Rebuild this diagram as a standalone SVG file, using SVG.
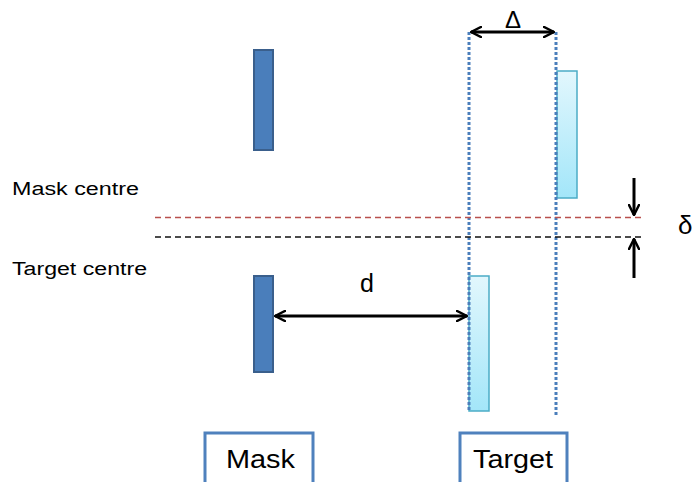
<svg xmlns="http://www.w3.org/2000/svg" width="695" height="482" viewBox="0 0 695 482">
<style>
.mask{fill:#4a7ebb;stroke:#3a5f8c;stroke-width:2}
.tgt{fill:url(#tg);stroke:#4bacc6;stroke-width:1.5}
.dot{stroke:#4a7ebb;stroke-width:3;stroke-dasharray:3 2;fill:none}
.arr{stroke:#000;stroke-width:3;fill:none}
.lbl{font-family:"Liberation Sans",Arial,sans-serif;fill:#000}
.box{fill:#fff;stroke:#4f81bd;stroke-width:3}
</style>
<defs>
<linearGradient id="tg" x1="0" y1="0" x2="0" y2="1">
<stop offset="0" stop-color="#e2f7fd"/>
<stop offset="1" stop-color="#a3e6f9"/>
</linearGradient>
<marker id="ah" viewBox="0 0 12 12" refX="11" refY="6" markerWidth="12" markerHeight="12" markerUnits="userSpaceOnUse" orient="auto-start-reverse">
<path d="M1,1 L11,6 L1,11" fill="none" stroke="#000" stroke-width="2.5" stroke-linecap="round" stroke-linejoin="round"/>
</marker>
</defs>
<rect width="695" height="482" fill="#fff"/>
<g id="mask-top"><rect class="mask" x="254" y="50" width="19" height="100"/></g>
<g id="mask-bottom"><rect class="mask" x="254" y="276" width="19" height="96"/></g>
<g id="target-top"><rect class="tgt" x="557" y="71" width="20" height="127"/></g>
<g id="target-bottom"><rect class="tgt" x="469" y="276" width="20" height="135"/></g>
<g id="connectors">
<line class="dot" x1="469" y1="32" x2="469" y2="412"/>
<line class="dot" x1="556" y1="32" x2="556" y2="415"/>
<line x1="155" y1="217.5" x2="645" y2="217.5" stroke="#b9504e" stroke-width="1.5" stroke-dasharray="6 4"/>
<line x1="155" y1="237" x2="645" y2="237" stroke="#111" stroke-width="1.5" stroke-dasharray="6 4"/>
<line class="arr" x1="471" y1="32" x2="554" y2="32" marker-start="url(#ah)" marker-end="url(#ah)"/>
<line class="arr" x1="275" y1="316" x2="467" y2="316" marker-start="url(#ah)" marker-end="url(#ah)"/>
<line class="arr" x1="634" y1="178" x2="634" y2="215" marker-end="url(#ah)"/>
<line class="arr" x1="634" y1="278" x2="634" y2="239" marker-end="url(#ah)"/>
</g>
<g id="labels">
<text class="lbl" x="513" y="28" font-size="24" text-anchor="middle">Δ</text>
<text class="lbl" x="367" y="292" font-size="25" text-anchor="middle">d</text>
<text class="lbl" x="678" y="234" font-size="26">δ</text>
<text class="lbl" x="12" y="195" font-size="18" textLength="127" lengthAdjust="spacingAndGlyphs">Mask centre</text>
<text class="lbl" x="12" y="275" font-size="18" textLength="135" lengthAdjust="spacingAndGlyphs">Target centre</text>
</g>
<g id="mask-box"><rect class="box" x="205" y="433" width="108" height="60"/><text class="lbl" x="226" y="468" font-size="25" textLength="69" lengthAdjust="spacingAndGlyphs">Mask</text></g>
<g id="target-box"><rect class="box" x="460" y="433" width="107" height="60"/><text class="lbl" x="473" y="468" font-size="25" textLength="80" lengthAdjust="spacingAndGlyphs">Target</text></g>
</svg>
